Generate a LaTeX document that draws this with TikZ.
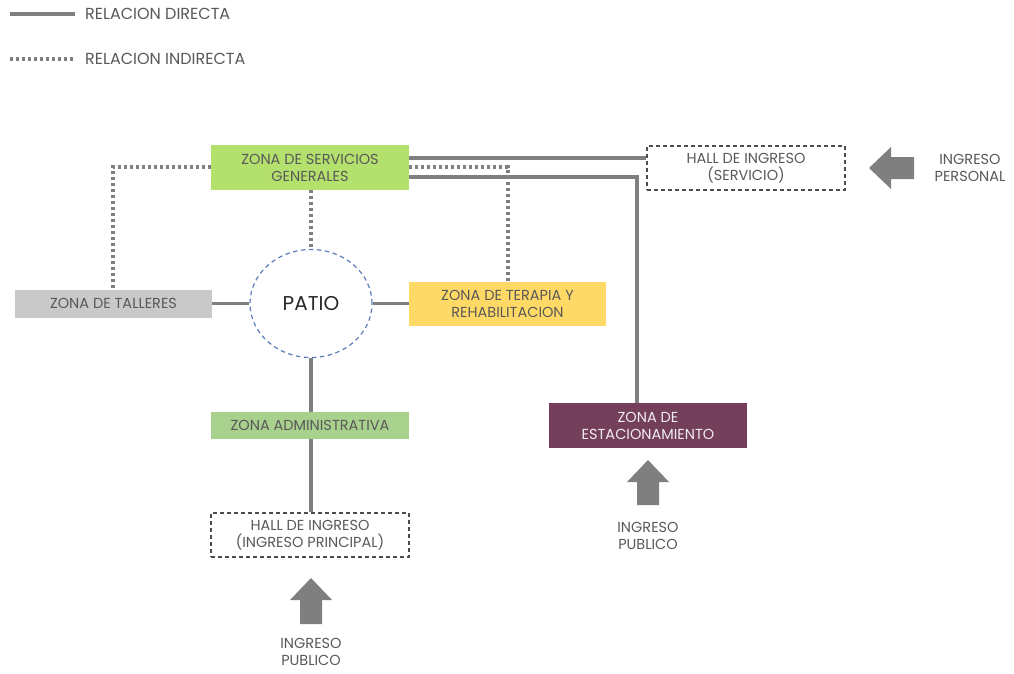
\documentclass[tikz,border=0pt]{standalone}
\usepackage{fontspec}
\setmainfont{Poppins}
\usetikzlibrary{shapes.geometric}
\definecolor{linegray}{HTML}{7F7F7F}
\definecolor{txtgray}{HTML}{595959}
\definecolor{servgreen}{HTML}{B4E06E}
\definecolor{admgreen}{HTML}{A9D18E}
\definecolor{tallgray}{HTML}{C9C9C9}
\definecolor{teryellow}{HTML}{FFD966}
\definecolor{estplum}{HTML}{733F5A}
\definecolor{patioblue}{HTML}{5B7DB8}
\definecolor{arrowgray}{HTML}{7F7F7F}
\tikzset{
  zone/.style={minimum width=198pt, inner sep=0pt, align=center,
    font=\fontsize{14.5}{17}\selectfont, text=txtgray},
  hallbox/.style={zone, draw=black!70, line width=1.3pt,
    dash pattern=on 4pt off 3pt},
  direct/.style={draw=linegray, line width=3.2pt},
  indirect/.style={draw=linegray, line width=3.2pt, dash pattern=on 3pt off 3pt},
  plain/.style={inner sep=0pt, align=center, font=\fontsize{14.5}{17}\selectfont, text=txtgray},
  legendtxt/.style={plain, font=\fontsize{16}{19}\selectfont, anchor=west},
  blockarrow/.style={fill=arrowgray, draw=none}
}
\begin{document}
\begin{tikzpicture}[x=1pt,y=-1pt]
\useasboundingbox (0,0) rectangle (1014,673);

% legend
\coordinate (l1a) at (10,14);
\coordinate (l1b) at (75,14);
\coordinate (l2a) at (10,59);
\coordinate (l2b) at (75,59);
\draw[direct] (l1a) -- (l1b);
\draw[indirect] (l2a) -- (l2b);
\node[legendtxt] (leg1) at (85,14) {RELACION DIRECTA};
\node[legendtxt] (leg2) at (85,59) {RELACION INDIRECTA};

% zones
\node[zone, fill=servgreen, minimum height=45pt] (serv) at (310,167.5) {ZONA DE SERVICIOS\\GENERALES};
\node[zone, fill=tallgray, minimum width=197pt, minimum height=28pt] (tall) at (113.5,303.5) {ZONA DE TALLERES};
\node[zone, fill=teryellow, minimum width=197pt, minimum height=44pt] (ter) at (507.5,304) {ZONA DE TERAPIA Y\\REHABILITACION};
\node[zone, fill=admgreen, minimum height=27pt] (adm) at (310,425.5) {ZONA ADMINISTRATIVA};
\node[zone, fill=estplum, text=white!90!estplum, minimum height=45pt] (est) at (648,425.5) {ZONA DE\\ESTACIONAMIENTO};
\node[hallbox, minimum height=44pt] (hallp) at (310,535) {HALL DE INGRESO\\(INGRESO PRINCIPAL)};
\node[hallbox, minimum height=44pt] (halls) at (746,168) {HALL DE INGRESO\\(SERVICIO)};
\node[ellipse, draw=patioblue, dash pattern=on 4.5pt off 3.5pt, line width=1.2pt,
  minimum width=122pt, minimum height=108pt, inner sep=0pt,
  font=\fontsize{20}{24}\selectfont, text=black!85] (patio) at (311,303.5) {PATIO};

% direct relations
\coordinate (s1) at (409,158);
\coordinate (c1) at (637,177);
\draw[direct] (s1) -- (s1 -| halls.west);
\draw[direct] (serv.east |- c1) -- (c1) -- (c1 |- est.north);
\draw[direct] (patio.west -| tall.east) -- (patio.west);
\draw[direct] (patio.east) -- (patio.east -| ter.west);
\draw[direct] (patio.south) -- (patio.south |- adm.north);
\draw[direct] (patio.south |- adm.south) -- (patio.south |- hallp.north);

% indirect relations
\coordinate (d1) at (508,167);
\coordinate (d2) at (113,167);
\draw[indirect] (serv.east |- d1) -- (d1) -- (d1 |- ter.north);
\draw[indirect] (serv.west |- d2) -- (d2) -- (d2 |- tall.north);
\draw[indirect] (patio.north |- serv.south) -- (patio.north);

% entrance arrows
\fill[blockarrow] (290,600) -- (311,578) -- (332,600) -- (322,600) -- (322,624) -- (300,624) -- (300,600) -- cycle;
\fill[blockarrow] (627,482) -- (648,460) -- (669,482) -- (659,482) -- (659,505) -- (637,505) -- (637,482) -- cycle;
\fill[blockarrow] (891,147) -- (869,168) -- (891,189) -- (891,179) -- (914,179) -- (914,157) -- (891,157) -- cycle;

\node[plain] (ing1) at (311,652) {INGRESO\\PUBLICO};
\node[plain] (ing2) at (648,536) {INGRESO\\PUBLICO};
\node[plain] (ing3) at (970,168) {INGRESO\\PERSONAL};
\end{tikzpicture}
\end{document}
